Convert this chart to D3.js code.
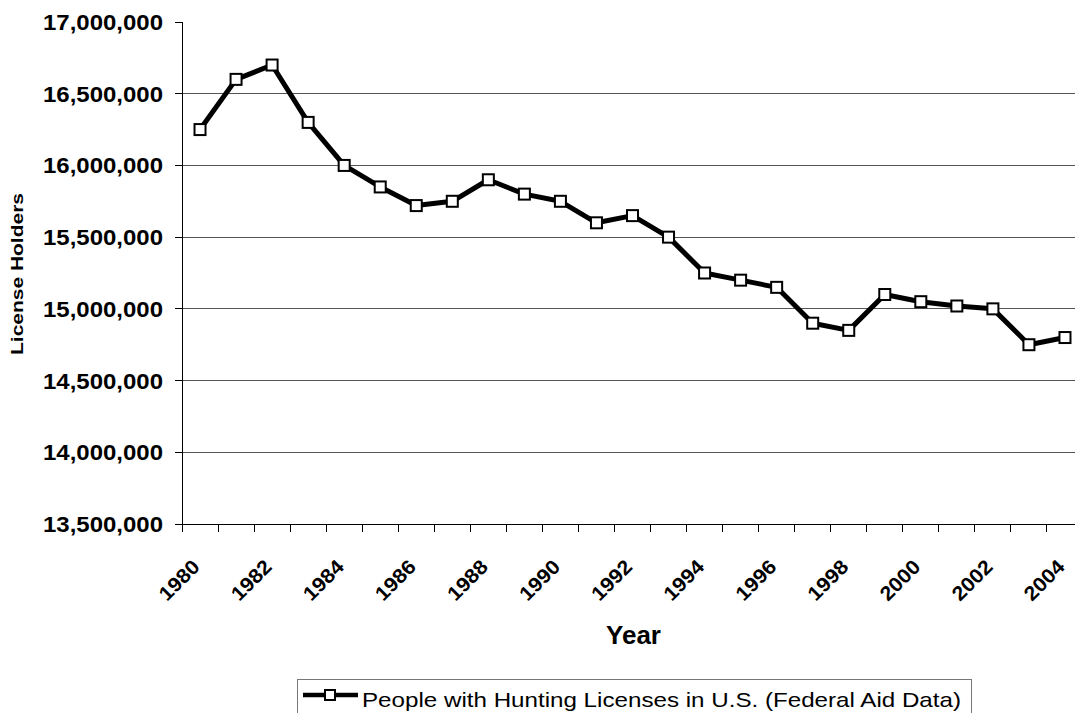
<!DOCTYPE html>
<html>
<head>
<meta charset="utf-8">
<script src="https://cdn.jsdelivr.net/npm/d3@7"></script>
<style>
  html, body { margin: 0; padding: 0; background: #fff; }
  svg { display: block; font-family: "Liberation Sans", Arial, sans-serif; }
</style>
</head>
<body>
<svg id="chart" width="1075" height="713"></svg>
<script>
const years = [1980,1981,1982,1983,1984,1985,1986,1987,1988,1989,1990,1991,1992,1993,1994,1995,1996,1997,1998,1999,2000,2001,2002,2003,2004];
const licenseHolders = [16250000,16600000,16700000,16300000,16000000,15850000,15720000,15750000,15900000,15800000,15750000,15600000,15650000,15500000,15250000,15200000,15150000,14900000,14850000,15100000,15050000,15020000,15000000,14750000,14800000];
const yTicks = [13500000,14000000,14500000,15000000,15500000,16000000,16500000,17000000];
const xLabelYears = [1980,1982,1984,1986,1988,1990,1992,1994,1996,1998,2000,2002,2004];
const seriesName = "People with Hunting Licenses in U.S. (Federal Aid Data)";
const xTitle = "Year";
const yTitle = "License Holders";

(function () {
const svg = d3.select("#chart");
const pLeft = 182, pTop = 22, pBottom = 524;
const bandW = 36.04;
const pRight = pLeft + bandW * years.length;

const x = d3.scaleBand().domain(years).range([pLeft, pRight]).paddingInner(0).paddingOuter(0);
const y = d3.scaleLinear().domain([13500000, 17000000]).range([pBottom, pTop]);
const fmt = d3.format(",");

// gridlines
svg.append("g").selectAll("line")
  .data(yTicks.filter(v => v > 13500000 && v < 17000000))
  .join("line")
  .attr("x1", pLeft).attr("x2", pRight)
  .attr("y1", d => y(d)).attr("y2", d => y(d))
  .attr("stroke", "#555").attr("stroke-width", 1).attr("shape-rendering", "crispEdges");

// y axis
const yAxis = svg.append("g");
yAxis.append("line").attr("x1", pLeft).attr("x2", pLeft).attr("y1", pTop).attr("y2", pBottom)
  .attr("stroke", "#000").attr("stroke-width", 1).attr("shape-rendering", "crispEdges");
yAxis.selectAll("line.tick").data(yTicks).join("line").attr("class", "tick")
  .attr("x1", pLeft - 7).attr("x2", pLeft).attr("y1", d => y(d)).attr("y2", d => y(d))
  .attr("stroke", "#000").attr("stroke-width", 1).attr("shape-rendering", "crispEdges");
yAxis.selectAll("text").data(yTicks).join("text")
  .attr("x", 163).attr("y", d => y(d) + 8)
  .attr("text-anchor", "end")
  .attr("font-size", 22).attr("font-weight", "bold")
  .attr("textLength", 120).attr("lengthAdjust", "spacingAndGlyphs")
  .text(d => fmt(d));

// x axis
const xAxis = svg.append("g");
xAxis.append("line").attr("x1", pLeft).attr("x2", pRight).attr("y1", pBottom).attr("y2", pBottom)
  .attr("stroke", "#000").attr("stroke-width", 1).attr("shape-rendering", "crispEdges");
const tickPos = years.map(d => x(d)).concat([pRight]);
xAxis.selectAll("line.tick").data(tickPos).join("line").attr("class", "tick")
  .attr("x1", d => d).attr("x2", d => d).attr("y1", pBottom).attr("y2", pBottom + 8)
  .attr("stroke", "#000").attr("stroke-width", 1).attr("shape-rendering", "crispEdges");
xAxis.selectAll("text").data(xLabelYears).join("text")
  .attr("transform", d => `translate(${x(d) + x.bandwidth() / 2 + 1},${pBottom + 44}) rotate(-45)`)
  .attr("text-anchor", "end")
  .attr("font-size", 20).attr("font-weight", "bold")
  .attr("textLength", 48).attr("lengthAdjust", "spacingAndGlyphs")
  .text(d => d);

// axis titles
svg.append("text").attr("x", (pLeft + pRight) / 2 + 1).attr("y", 644)
  .attr("text-anchor", "middle").attr("font-size", 26).attr("font-weight", "bold")
  .text(xTitle);
svg.append("text").attr("transform", `translate(23.3,274) rotate(-90)`)
  .attr("text-anchor", "middle").attr("font-size", 16).attr("font-weight", "bold")
  .attr("textLength", 162).attr("lengthAdjust", "spacingAndGlyphs")
  .text(yTitle);

// line
const cx = d => x(d) + x.bandwidth() / 2;
const line = d3.line().x((d, i) => cx(years[i])).y(d => y(d));
svg.append("path").datum(licenseHolders)
  .attr("d", line).attr("fill", "none").attr("stroke", "#000")
  .attr("stroke-width", 5).attr("stroke-linejoin", "round");

// markers
const ms = 11;
svg.append("g").selectAll("rect").data(licenseHolders).join("rect")
  .attr("x", (d, i) => cx(years[i]) - ms / 2).attr("y", d => y(d) - ms / 2)
  .attr("width", ms).attr("height", ms)
  .attr("fill", "#fff").attr("stroke", "#000").attr("stroke-width", 2);

// legend
const lg = svg.append("g");
const lgLeft = 297, lgTop = 679.5, textLen = 599;
lg.append("rect").attr("x", lgLeft + 0.5).attr("y", lgTop).attr("width", 362 + textLen + 10 - lgLeft).attr("height", 60)
  .attr("fill", "#fff").attr("stroke", "#777").attr("stroke-width", 1);
lg.append("line").attr("x1", 303).attr("x2", 358).attr("y1", 695).attr("y2", 695)
  .attr("stroke", "#000").attr("stroke-width", 4.5);
lg.append("rect").attr("x", 330 - 5).attr("y", 695 - 5).attr("width", 10).attr("height", 10)
  .attr("fill", "#fff").attr("stroke", "#000").attr("stroke-width", 2);
lg.append("text").attr("x", 362).attr("y", 707)
  .attr("font-size", 21).attr("textLength", textLen).attr("lengthAdjust", "spacingAndGlyphs")
  .text(seriesName);
})();
</script>
</body>
</html>
